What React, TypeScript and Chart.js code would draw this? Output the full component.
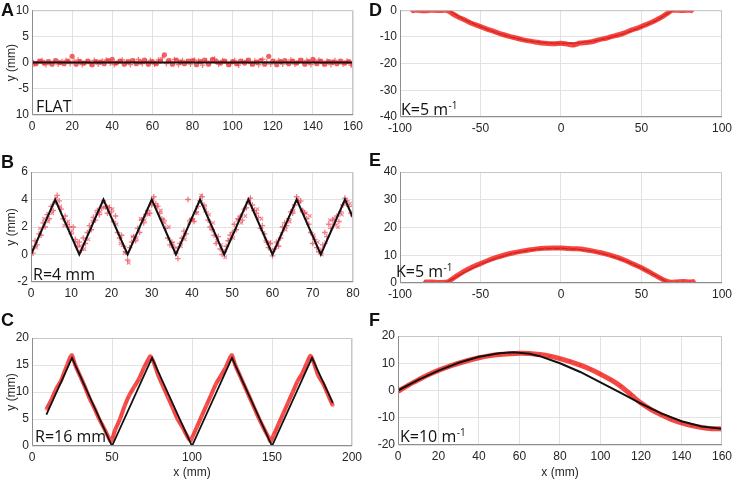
import React, { useEffect, useRef } from 'react';
import { Chart, registerables } from 'chart.js';

Chart.register(...registerables);

type P = [number, number];

// ---------- Panel A (FLAT) ----------
const aLine: P[] = [[0, 0], [160, 0]];
const aRed: P[] = [
  [0, 0.1], [2, -0.2], [4, 0.3], [6, -0.1], [8, 0.2], [10, -0.3], [12, 0.4], [14, 0.0], [16, -0.2], [18, 0.3],
  [20, 1.2], [22, -0.3], [24, 0.2], [26, -0.1], [28, 0.3], [30, -0.4], [32, 0.2], [34, 0.1], [36, -0.2], [38, 0.4],
  [40, 0.6], [42, -0.1], [44, 0.3], [46, -0.3], [48, 0.2], [50, 0.4], [52, -0.2], [54, 0.1], [56, 0.5], [58, -0.3],
  [60, 0.2], [62, -0.2], [64, 0.3], [66, 1.5], [68, 0.4], [70, -0.3], [72, 0.5], [74, 0.1], [76, -0.2], [78, 0.3],
  [80, 0.4], [82, -0.4], [84, 0.2], [86, 0.5], [88, -0.3], [90, 0.6], [92, 0.2], [94, -0.1], [96, 0.3], [98, -0.4],
  [100, 0.2], [102, -0.2], [104, 0.3], [106, -0.1], [108, 0.5], [110, -0.3], [112, 0.1], [114, 0.4], [116, -0.3], [118, 1.2],
  [120, 0.3], [122, -0.4], [124, 0.2], [126, 0.4], [128, -0.2], [130, 0.3], [132, -0.1], [134, 0.5], [136, -0.3], [138, 0.2],
  [140, 0.6], [142, -0.2], [144, 0.3], [146, -0.3], [148, 0.2], [150, 0.1], [152, -0.2], [154, 0.3], [156, -0.1], [158, 0.2],
  [160, -0.3],
];
const aRed2: P[] = [
  [1, -0.3], [3, 0.2], [5, 0.4], [7, -0.4], [9, 0.1], [11, 0.3], [13, -0.3], [15, 0.2], [17, 0.4], [19, -0.2],
  [21, 0.3], [23, 0.5], [25, -0.4], [27, 0.2], [29, -0.2], [31, 0.4], [33, -0.3], [35, 0.3], [37, 0.5], [39, -0.1],
  [41, -0.4], [43, 0.2], [45, 0.5], [47, 0.1], [49, -0.4], [51, 0.3], [53, 0.6], [55, -0.2], [57, 0.2], [59, 0.4],
  [61, -0.3], [63, 0.5], [65, 0.9], [67, -0.2], [69, 0.3], [71, 0.6], [73, -0.4], [75, 0.4], [77, 0.2], [79, -0.3],
  [81, 0.5], [83, 0.3], [85, -0.5], [87, 0.3], [89, 0.2], [91, 0.7], [93, -0.3], [95, 0.4], [97, 0.1], [99, -0.2],
  [101, 0.4], [103, -0.5], [105, 0.2], [107, 0.4], [109, -0.2], [111, 0.3], [113, -0.4], [115, 0.6], [117, 0.2], [119, -0.3],
  [121, 0.2], [123, 0.4], [125, -0.3], [127, 0.1], [129, 0.5], [131, -0.3], [133, 0.3], [135, 0.2], [137, 0.4], [139, -0.4],
  [141, 0.3], [143, 0.5], [145, -0.2], [147, 0.3], [149, -0.4], [151, 0.4], [153, 0.2], [155, -0.3], [157, 0.3], [159, -0.5],
];
const aYTickLabels = ['10', '-5', '0', '5', '10'];

// ---------- Panel B (R=4 mm) ----------
const bLine: P[] = [
  [0, 0], [6, 4], [12, 0], [18, 4], [24, 0], [30, 4], [36, 0], [42, 4], [48, 0], [54, 4], [60, 0], [66, 4], [72, 0], [78, 4], [80, 2.67],
];
const bRed: P[] = [
  [0, 0.6], [0.5, 0.1], [1, 1.0], [1.5, 0.7], [2, 1.5], [2.5, 1.4], [3, 2.3], [3.5, 2.0], [4, 2.9], [4.5, 2.6],
  [5, 3.5], [5.5, 3.2], [6, 3.8], [6.5, 4.3], [7, 3.9], [7.5, 3.3], [8, 2.6], [8.5, 2.8], [9, 2.2], [9.5, 2.0],
  [10, 1.5], [10.5, 2.0], [11, 1.1], [11.5, 0.6], [12, 0.9], [12.5, 0.3], [13, 1.2], [13.5, 0.8], [14, 1.6], [14.5, 2.1],
  [15, 1.8], [15.5, 2.7], [16, 2.5], [16.5, 3.2], [17, 2.9], [17.5, 3.4], [18, 3.9], [18.5, 3.5], [19, 3.0], [19.5, 3.4],
  [20, 3.1], [20.5, 2.4], [21, 2.8], [21.5, 1.6], [22, 1.2], [22.5, 1.4], [23, 0.6], [23.5, 0.2], [24, -0.4], [24.5, 0.5],
  [25, 0.9], [25.5, 1.3], [26, 1.0], [26.5, 1.9], [27, 1.6], [27.5, 2.5], [28, 2.3], [28.5, 2.9], [29, 3.2], [29.5, 3.0],
  [30, 3.6], [30.5, 4.2], [31, 3.7], [31.5, 3.5], [32, 3.0], [32.5, 2.6], [33, 2.5], [33.5, 1.9], [34, 1.2], [34.5, 0.7],
  [35, 0.9], [35.5, 0.5], [36, 0.1], [36.5, -0.3], [37, 0.8], [37.5, 1.2], [38, 1.7], [38.5, 1.5], [39, 4.0], [39.5, 2.5],
  [40, 2.6], [40.5, 2.4], [41, 3.1], [41.5, 3.5], [42, 3.9], [42.5, 4.2], [43, 3.6], [43.5, 3.1], [44, 2.5], [44.5, 2.0],
  [45, 1.8], [45.5, 1.4], [46, 0.8], [46.5, 1.3], [47, 0.4], [47.5, 0.0], [48, 0.2], [48.5, 0.6], [49, 1.0], [49.5, 1.4],
  [50, 1.6], [50.5, 2.2], [51, 1.8], [51.5, 2.6], [52, 2.8], [52.5, 2.5], [53, 3.3], [53.5, 3.4], [54, 3.8], [54.5, 4.1],
  [55, 3.6], [55.5, 3.2], [56, 3.0], [56.5, 2.7], [57, 1.9], [57.5, 2.1], [58, 1.5], [58.5, 0.9], [59, 0.5], [59.5, 0.8],
  [60, -0.1], [60.5, 0.4], [61, 0.9], [61.5, 0.6], [62, 1.2], [62.5, 2.0], [63, 2.3], [63.5, 2.1], [64, 2.6], [64.5, 3.1],
  [65, 3.0], [65.5, 3.6], [66, 4.2], [66.5, 3.8], [67, 3.9], [67.5, 3.2], [68, 3.0], [68.5, 2.6], [69, 2.2], [69.5, 1.6],
  [70, 0.8], [70.5, 1.1], [71, 0.5], [71.5, 0.2], [72, 0.3], [72.5, 0.7], [73, 1.6], [73.5, 1.3], [74, 2.2], [74.5, 1.9],
  [75, 2.5], [75.5, 2.2], [76, 2.8], [76.5, 2.4], [77, 3.1], [77.5, 3.6], [78, 4.1], [78.5, 3.9], [79, 3.5], [79.5, 3.0],
  [80, 2.8],
];
const bRed2: P[] = [
  [0.25, 0.4], [1.25, 0.5], [2.25, 1.9], [3.25, 2.6], [4.25, 2.4], [5.25, 3.0], [6.25, 4.1], [7.25, 3.5], [8.25, 2.1], [9.25, 2.4],
  [10.25, 1.7], [11.25, 0.9], [12.25, 0.6], [13.25, 0.4], [14.25, 1.1], [15.25, 2.4], [16.25, 3.0], [17.25, 3.1], [18.25, 3.4], [19.25, 3.5],
  [20.25, 3.3], [21.25, 2.2], [22.25, 0.8], [23.25, 0.1], [24.25, -0.6], [25.25, 1.3], [26.25, 1.2], [27.25, 2.6], [28.25, 2.5], [29.25, 2.9],
  [30.25, 4.0], [31.25, 3.5], [32.25, 3.2], [33.25, 2.3], [34.25, 2.0], [35.25, 0.8], [36.25, 0.5], [37.25, 0.6], [38.25, 1.1], [39.25, 2.3],
  [40.25, 2.5], [41.25, 3.0], [42.25, 4.3], [43.25, 3.4], [44.25, 2.9], [45.25, 2.3], [46.25, 1.0], [47.25, 0.7], [48.25, -0.2], [49.25, 1.1],
  [50.25, 1.2], [51.25, 2.5], [52.25, 2.3], [53.25, 2.8], [54.25, 4.0], [55.25, 3.3], [56.25, 3.3], [57.25, 2.6], [58.25, 1.1], [59.25, 0.9],
  [60.25, 0.3], [61.25, 0.7], [62.25, 1.5], [63.25, 1.8], [64.25, 2.4], [65.25, 3.2], [66.25, 4.0], [67.25, 3.2], [68.25, 3.0], [69.25, 2.8],
  [70.25, 1.4], [71.25, 0.9], [72.25, 0.0], [73.25, 0.9], [74.25, 2.5], [75.25, 2.6], [76.25, 2.0], [77.25, 2.9], [78.25, 3.8], [79.25, 3.7],
];

// ---------- Panel C (R=16 mm) ----------
const cLine: P[] = [[9, 5.8], [25, 16.3], [50, 0], [75, 16.3], [100, 0], [125, 16.3], [150, 0], [175, 16.3], [188, 8]];
const cRed: P[] = [
  [9, 6.8], [12, 8.5], [15, 10.5], [18, 12], [20, 13.5], [22, 15], [24, 16.5], [25, 16.8], [27, 15], [30, 13],
  [33, 11], [36, 8.8], [39, 7], [42, 5], [45, 3.3], [48, 1.5], [49, 0.9], [50, 1.2], [52, 3], [55, 5],
  [58, 7.5], [61, 9.5], [64, 11], [67, 12.5], [70, 14.5], [73, 16.2], [74, 16.6], [76, 15.5], [79, 13], [82, 11],
  [85, 9], [88, 7], [91, 5], [94, 3.5], [97, 1.8], [99, 1.0], [100, 1.5], [103, 3.5], [106, 5.5], [109, 7.5],
  [112, 9.5], [115, 11.5], [118, 13], [121, 14.5], [124, 16.5], [125, 16.8], [127, 15], [130, 13], [133, 11], [136, 9],
  [139, 7], [142, 5], [145, 3.2], [148, 1.5], [149, 0.9], [151, 2], [154, 4], [157, 6], [160, 8], [163, 10],
  [166, 12], [169, 13.5], [172, 15.5], [174, 16.7], [176, 15.5], [179, 13], [182, 11.5], [185, 9.5], [188, 7.5],
];

// ---------- Panel D (K=5, concave) ----------
const dLine: P[] = [
  [-90, 0], [-70, 0], [-60, -3.6], [-50, -6.2], [-40, -8.5], [-30, -10.2], [-20, -11.5], [-10, -12.2], [0, -12.5],
  [10, -12.3], [20, -11.6], [30, -10.3], [40, -8.6], [50, -6.3], [60, -3.6], [68, -0.5], [70, 0], [80, 0],
];
const dRed: P[] = [
  [-93, -0.2], [-90, 0.1], [-85, -0.2], [-80, 0.1], [-75, -0.1], [-72, 0.1], [-70, -0.3], [-67, -1.5], [-64, -2.5], [-60, -3.6],
  [-56, -4.8], [-52, -5.7], [-48, -6.6], [-44, -7.5], [-40, -8.3], [-36, -9.1], [-32, -9.8], [-28, -10.4], [-24, -11.0], [-20, -11.5],
  [-16, -11.9], [-12, -12.3], [-8, -12.5], [-4, -12.6], [0, -12.4], [4, -12.7], [8, -13.0], [12, -12.3], [16, -12.1], [20, -11.7],
  [24, -11.0], [28, -10.5], [32, -9.8], [36, -9.2], [40, -8.4], [44, -7.4], [48, -6.6], [52, -5.6], [56, -4.6], [60, -3.4],
  [64, -2.0], [67, -0.8], [69, 0], [72, 0.1], [76, -0.1], [80, 0.0], [82, -0.2],
];

// ---------- Panel E (K=5, convex) ----------
const eLine: P[] = [
  [-90, 0], [-72, 0], [-65, 2.2], [-60, 3.9], [-50, 6.8], [-40, 9.0], [-30, 10.7], [-20, 11.8], [-10, 12.4], [0, 12.5],
  [10, 12.2], [20, 11.4], [30, 10.0], [40, 8.0], [50, 5.4], [60, 2.3], [67, 0], [82, 0],
];
const eRed: P[] = [
  [-85, 0.3], [-80, 0.4], [-76, 0.2], [-72, 0.3], [-70, 0.5], [-65, 2.5], [-60, 4.3], [-55, 5.8], [-50, 7.0], [-45, 8.2],
  [-40, 9.2], [-35, 10.1], [-30, 10.8], [-25, 11.4], [-20, 11.9], [-15, 12.3], [-10, 12.5], [-5, 12.6], [0, 12.6], [5, 12.4],
  [10, 12.3], [15, 12.0], [20, 11.5], [25, 10.9], [30, 10.1], [35, 9.2], [40, 8.1], [45, 6.8], [50, 5.5], [55, 3.9],
  [60, 2.3], [65, 0.8], [68, 0.3], [72, 0.4], [76, 0.5], [80, 0.4], [83, 0.5],
];

// ---------- Panel F (K=10) ----------
const fLine: P[] = [
  [0, 0], [10, 3.9], [20, 7.3], [30, 10.2], [40, 12.4], [50, 13.7], [57, 14.0], [65, 13.5], [70, 12.6], [80, 10.0],
  [90, 6.8], [100, 3.0], [110, -0.9], [120, -4.8], [130, -8.4], [140, -11.3], [150, -13.2], [160, -14.0],
];
const fRed: P[] = [
  [0, -0.3], [5, 1.9], [10, 3.9], [15, 5.8], [20, 7.4], [25, 8.8], [30, 10.0], [35, 11.1], [40, 12.0], [45, 12.7],
  [50, 13.2], [55, 13.5], [60, 13.7], [65, 13.6], [70, 13.2], [75, 12.6], [80, 11.7], [85, 10.6], [90, 9.3], [95, 7.8],
  [100, 6.0], [105, 4.0], [110, 1.6], [115, -1.5], [120, -4.6], [125, -7.0], [130, -8.9], [135, -10.6], [140, -11.9], [145, -12.9],
  [150, -13.6], [155, -14.0], [160, -14.1],
];

const pts = (a: P[]) => a.map(([x, y]) => ({ x, y }));

const TICK_FONT = { family: '"Liberation Sans", Arial, sans-serif', size: 12 };
const TICK_COLOR = '#262626';

const decorPlugin = {
  id: 'panelDecor',
  afterDraw(chart: any, _args: any, opts: any) {
    const { ctx, chartArea: a } = chart;
    ctx.save();
    ctx.lineWidth = 1;
    ctx.strokeStyle = '#c6c6c6';
    ctx.beginPath();
    ctx.moveTo(a.left, a.top + 0.5);
    ctx.lineTo(a.right - 0.5, a.top + 0.5);
    ctx.lineTo(a.right - 0.5, a.bottom);
    ctx.stroke();
    ctx.strokeStyle = '#8e8e8e';
    ctx.beginPath();
    ctx.moveTo(a.left + 0.5, a.top);
    ctx.lineTo(a.left + 0.5, a.bottom - 0.5);
    ctx.lineTo(a.right, a.bottom - 0.5);
    ctx.stroke();
    if (opts && opts.text) {
      const x = a.left + (opts.dx || 0);
      const y = a.bottom + (opts.dy || -3);
      ctx.fillStyle = '#111';
      ctx.textBaseline = 'alphabetic';
      ctx.textAlign = 'left';
      ctx.font = '16px "Open Sans", "Liberation Sans", sans-serif';
      ctx.fillText(opts.text, x, y);
      if (opts.sup) {
        const w = ctx.measureText(opts.text).width;
        ctx.font = '10px "Open Sans", "Liberation Sans", sans-serif';
        ctx.fillText(opts.sup, x + w + 0.5, y - 6);
      }
    }
    ctx.restore();
  },
};

interface Cfg {
  left: number; top: number; width: number; height: number;
  plotL: number; plotT: number; plotR: number; plotB: number;
  xMin: number; xMax: number; xStep: number;
  yMin: number; yMax: number; yStep: number;
  yLabels?: string[];
  yTitle?: boolean; xTitle?: boolean;
  text: string; sup?: string; dx: number; dy: number;
  datasets: any[];
}

const red = 'rgba(242,40,35,0.85)';

const lineDs = (d: P[], color: string, w: number) => ({
  data: pts(d), showLine: true, borderColor: color, borderWidth: w, pointRadius: 0, tension: 0,
});
const dotDs = (d: P[], color: string, r: number) => ({
  data: pts(d), showLine: false, backgroundColor: color, borderWidth: 0, pointRadius: r,
});
const crossDs = (d: P[], color: string, r: number) => ({
  data: pts(d), showLine: false, pointStyle: 'crossRot', borderColor: color, pointBorderWidth: 1.3, pointRadius: r,
});
const plusDs = (d: P[], color: string, r: number) => ({
  data: pts(d), showLine: false, pointStyle: 'cross', borderColor: color, pointBorderWidth: 1.3, pointRadius: r,
});
const bandDs = (d: P[], color: string, w: number, ptColor: string, r: number) => ({
  data: pts(d), showLine: true, borderColor: color, borderWidth: w, backgroundColor: ptColor,
  pointBorderWidth: 0, pointRadius: r, tension: 0.3,
});

const panels: Cfg[] = [
  {
    left: 0, top: 0, width: 368, height: 140, plotL: 32, plotT: 8, plotR: 353, plotB: 115,
    xMin: 0, xMax: 160, xStep: 20, yMin: -10, yMax: 10, yStep: 5, yLabels: aYTickLabels,
    yTitle: true, text: 'FLAT', dx: 4, dy: -3,
    datasets: [
      lineDs(aLine, '#111', 2),
      dotDs(aRed, 'rgba(238,45,50,0.75)', 2.6),
      plusDs(aRed2, 'rgba(240,60,70,0.7)', 2.8),
    ],
  },
  {
    left: 0, top: 160, width: 368, height: 145, plotL: 31, plotT: 172, plotR: 353, plotB: 282,
    xMin: 0, xMax: 80, xStep: 10, yMin: -2, yMax: 6, yStep: 2,
    yTitle: true, text: 'R=4 mm', dx: 2, dy: -2,
    datasets: [
      lineDs(bLine, '#111', 2),
      plusDs(bRed, 'rgba(238,50,70,0.65)', 2.8),
      crossDs(bRed2, 'rgba(238,70,90,0.6)', 2.5),
    ],
  },
  {
    left: 0, top: 325, width: 368, height: 157, plotL: 32, plotT: 338, plotR: 352, plotB: 446,
    xMin: 0, xMax: 200, xStep: 50, yMin: 0, yMax: 20, yStep: 5,
    yTitle: true, xTitle: true, text: 'R=16 mm', dx: 3, dy: -4,
    datasets: [lineDs(cLine, '#111', 1.8), bandDs(cRed, red, 4, 'rgba(250,90,100,0.6)', 1.8)],
  },
  {
    left: 368, top: 0, width: 368, height: 140, plotL: 400, plotT: 7, plotR: 725, plotB: 117,
    xMin: -100, xMax: 100, xStep: 50, yMin: -40, yMax: 0, yStep: 10,
    text: 'K=5 m', sup: '-1', dx: 1, dy: -2,
    datasets: [bandDs(dRed, red, 5, 'rgba(245,50,40,0.8)', 1.3), lineDs(dLine, '#111', 1.5)],
  },
  {
    left: 368, top: 160, width: 368, height: 145, plotL: 400, plotT: 172, plotR: 723, plotB: 283,
    xMin: -100, xMax: 100, xStep: 50, yMin: 0, yMax: 40, yStep: 10,
    text: 'K=5 m', sup: '-1', dx: -4, dy: -6,
    datasets: [bandDs(eRed, red, 5, 'rgba(245,50,40,0.8)', 1.3), lineDs(eLine, '#111', 1.5)],
  },
  {
    left: 368, top: 325, width: 368, height: 157, plotL: 398, plotT: 336, plotR: 723, plotB: 445,
    xMin: 0, xMax: 160, xStep: 20, yMin: -20, yMax: 20, yStep: 10,
    xTitle: true, text: 'K=10 m', sup: '-1', dx: 2, dy: -3,
    datasets: [lineDs(fLine, '#111', 2), bandDs(fRed, red, 5, 'rgba(245,50,40,0.8)', 1.3)],
  },
];

function Panel({ cfg }: { cfg: Cfg }) {
  const ref = useRef<HTMLCanvasElement>(null);
  useEffect(() => {
    const yW = cfg.plotL - cfg.left;
    const padTop = cfg.plotT - cfg.top;
    const padRight = cfg.left + cfg.width - cfg.plotR;
    const xH = cfg.top + cfg.height - cfg.plotB;
    const chart = new Chart(ref.current!, {
      type: 'scatter',
      data: { datasets: cfg.datasets },
      plugins: [decorPlugin],
      options: {
        responsive: false,
        animation: false,
        events: [],
        layout: { padding: { left: 0, top: padTop, right: padRight, bottom: 0 } },
        plugins: {
          legend: { display: false },
          tooltip: { enabled: false },
          panelDecor: { text: cfg.text, sup: cfg.sup, dx: cfg.dx, dy: cfg.dy },
        } as any,
        scales: {
          x: {
            type: 'linear', min: cfg.xMin, max: cfg.xMax,
            afterFit: (s: any) => { s.height = xH; },
            border: { display: false },
            grid: { color: '#e2e2e2', drawTicks: false, lineWidth: 1 },
            ticks: { stepSize: cfg.xStep, font: TICK_FONT, color: TICK_COLOR, padding: 4, maxRotation: 0, autoSkip: false },
            title: {
              display: !!cfg.xTitle, text: 'x (mm)', font: TICK_FONT, color: TICK_COLOR,
              padding: { top: 0, bottom: 2 },
            },
          },
          y: {
            type: 'linear', min: cfg.yMin, max: cfg.yMax,
            afterFit: (s: any) => { s.width = yW; },
            border: { display: false },
            grid: { color: '#e2e2e2', drawTicks: false, lineWidth: 1 },
            ticks: {
              stepSize: cfg.yStep, font: TICK_FONT, color: TICK_COLOR, padding: 3, autoSkip: false,
              callback: (v: any, i: number) => (cfg.yLabels ? cfg.yLabels[i] : String(v)),
            },
            title: {
              display: !!cfg.yTitle, text: 'y (mm)', font: TICK_FONT, color: TICK_COLOR,
              padding: { top: 4, bottom: 0 },
            },
          },
        },
      } as any,
    });
    return () => chart.destroy();
  }, [cfg]);
  return (
    <div style={{ position: 'absolute', left: cfg.left, top: cfg.top, width: cfg.width, height: cfg.height }}>
      <canvas ref={ref} width={cfg.width} height={cfg.height} style={{ display: 'block' }} />
    </div>
  );
}

const letters = [
  { t: 'A', x: 1, y: 1 },
  { t: 'B', x: 1, y: 153 },
  { t: 'C', x: 1, y: 311 },
  { t: 'D', x: 369, y: 1 },
  { t: 'E', x: 369, y: 151 },
  { t: 'F', x: 369, y: 311 },
];

export default function App() {
  return (
    <div style={{ position: 'absolute', left: 0, top: 0, width: 736, height: 482, background: '#fff', overflow: 'hidden' }}>
      {panels.map((p, i) => <Panel key={i} cfg={p} />)}
      {letters.map((l) => (
        <div key={l.t} style={{
          position: 'absolute', left: l.x, top: l.y, fontFamily: '"Liberation Sans", Arial, sans-serif',
          fontWeight: 'bold', fontSize: 18, lineHeight: '18px', color: '#111', zIndex: 2,
        }}>{l.t}</div>
      ))}
    </div>
  );
}
